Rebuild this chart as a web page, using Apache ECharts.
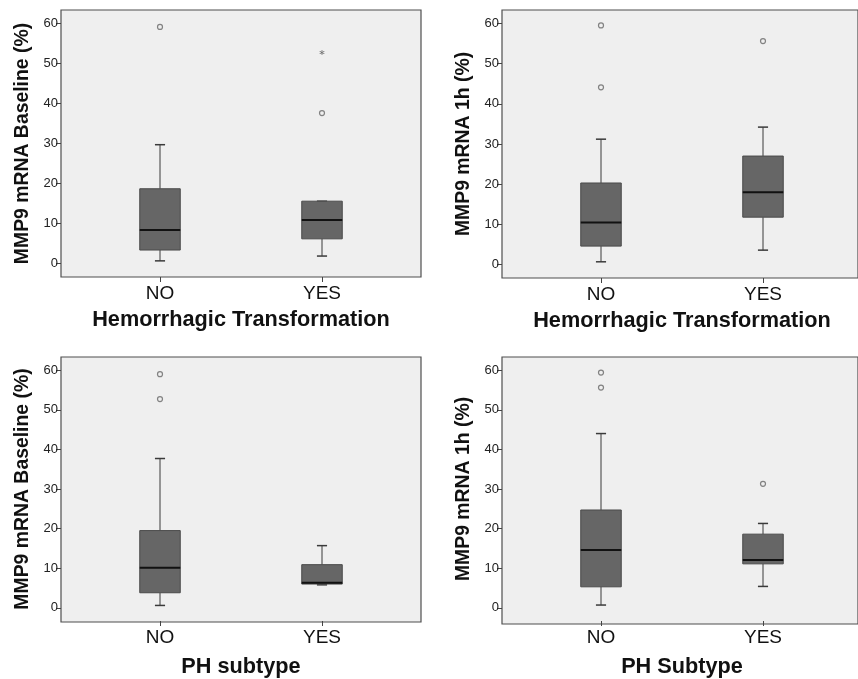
<!DOCTYPE html>
<html>
<head>
<meta charset="utf-8">
<script src="https://cdn.jsdelivr.net/npm/echarts@6/dist/echarts.min.js"></script>
<style>
  html, body { margin: 0; padding: 0; background: #fff; }
  #chart { width: 858px; height: 679px; }
</style>
</head>
<body>
<div id="chart"></div>
<script>
// categories and ticks
var categories = ["NO", "YES"];
var yTicks = [0, 10, 20, 30, 40, 50, 60];

// each box: [low whisker, Q1, median, Q3, high whisker], one per category
var baselineHT = [[0.7, 3.4, 8.4, 18.7, 29.7], [1.9, 6.2, 10.9, 15.6, 15.6]];
var baselineHTOutliers = [[0, 59.1], [1, 37.6]];
var baselineHTExtremes = [[1, 52.7]];

var oneHourHT = [[0.7, 4.6, 10.5, 20.3, 31.2], [3.6, 11.8, 18.0, 27.0, 34.2]];
var oneHourHTOutliers = [[0, 44.1], [0, 59.5], [1, 55.6]];

var baselinePH = [[0.6, 3.8, 10.1, 19.5, 37.7], [5.8, 6.0, 6.3, 10.9, 15.7]];
var baselinePHOutliers = [[0, 52.7], [0, 59.0]];

var oneHourPH = [[0.7, 5.3, 14.6, 24.7, 44.0], [5.4, 11.1, 12.1, 18.6, 21.3]];
var oneHourPHOutliers = [[0, 55.6], [0, 59.4], [1, 31.3]];

var FONT = "Liberation Sans, Arial, sans-serif";
// asterisk marker for extreme values
var STAR = "path://M-0.6,-5L0.6,-5L0.6,5L-0.6,5Z M4.03,3.02L4.63,1.98L-4.03,-3.02L-4.63,-1.98Z M-4.03,3.02L-4.63,1.98L4.03,-3.02L4.63,-1.98Z";

var panels = [
  { left: 61, top: 10, width: 360, height: 267, yName: "MMP9 mRNA Baseline (%)", xName: "Hemorrhagic Transformation",
    boxes: baselineHT, outliers: baselineHTOutliers, extremes: baselineHTExtremes, nameGap: 32 },
  { left: 502, top: 10, width: 362, height: 268, yName: "MMP9 mRNA 1h (%)", xName: "Hemorrhagic Transformation",
    boxes: oneHourHT, outliers: oneHourHTOutliers, extremes: [], nameGap: 32 },
  { left: 61, top: 357, width: 360, height: 265, yName: "MMP9 mRNA Baseline (%)", xName: "PH subtype",
    boxes: baselinePH, outliers: baselinePHOutliers, extremes: [], nameGap: 35 },
  { left: 502, top: 357, width: 362, height: 267, yName: "MMP9 mRNA 1h (%)", xName: "PH Subtype",
    boxes: oneHourPH, outliers: oneHourPHOutliers, extremes: [], nameGap: 35 }
];

function renderBox(params, api) {
  var x = api.value(0);
  var low = api.coord([x, api.value(1)]);
  var q1 = api.coord([x, api.value(2)]);
  var med = api.coord([x, api.value(3)]);
  var q3 = api.coord([x, api.value(4)]);
  var high = api.coord([x, api.value(5)]);
  var bw = api.size([1, 0])[0] * 0.25;
  var cap = bw * 0.25;
  var cx = med[0];
  var lineStyle = { stroke: "#3a3a3a", lineWidth: 1 };
  return {
    type: "group",
    children: [
      { type: "line", shape: { x1: cx, y1: high[1], x2: cx, y2: q3[1] }, style: lineStyle },
      { type: "line", shape: { x1: cx, y1: low[1], x2: cx, y2: q1[1] }, style: lineStyle },
      { type: "line", shape: { x1: cx - cap / 2, y1: high[1], x2: cx + cap / 2, y2: high[1] }, style: { stroke: "#3a3a3a", lineWidth: 1.5 } },
      { type: "line", shape: { x1: cx - cap / 2, y1: low[1], x2: cx + cap / 2, y2: low[1] }, style: { stroke: "#3a3a3a", lineWidth: 1.5 } },
      { type: "rect", shape: { x: cx - bw / 2, y: q3[1], width: bw, height: q1[1] - q3[1] },
        style: { fill: "#666666", stroke: "#4a4a4a", lineWidth: 1 } },
      { type: "line", shape: { x1: cx - bw / 2, y1: med[1], x2: cx + bw / 2, y2: med[1] }, style: { stroke: "#111", lineWidth: 2 } }
    ]
  };
}

var grid = [], xAxis = [], yAxis = [], series = [];
panels.forEach(function (p, i) {
  var frame = 2 * i, inner = 2 * i + 1;
  // frame with grey background
  grid.push({ left: p.left, top: p.top, width: p.width, height: p.height, show: true,
    backgroundColor: "#efefef", borderColor: "#4f4f4f", borderWidth: 1.2 });
  // data area, narrower so categories sit where they do in the picture
  grid.push({ left: p.left + 18, top: p.top, width: 324, height: p.height });

  xAxis.push({ gridIndex: frame, type: "value", show: false });
  yAxis.push({ gridIndex: frame, type: "value", show: false });

  xAxis.push({
    gridIndex: inner, type: "category", data: categories, position: "bottom",
    axisLine: { show: false, onZero: false },
    axisTick: { show: true, alignWithLabel: true, length: 5, lineStyle: { color: "#444" } },
    axisLabel: { color: "#111", fontSize: 19, fontFamily: FONT, margin: 7 },
    splitLine: { show: false },
    name: p.xName, nameLocation: "middle", nameGap: p.nameGap,
    nameTextStyle: { color: "#111", fontSize: 21.7, fontWeight: "bold", fontFamily: FONT }
  });
  yAxis.push({
    gridIndex: inner, type: "value", min: -3.33, max: 63.33, offset: 18,
    axisLine: { show: false },
    axisTick: { show: true, length: 5, customValues: yTicks, lineStyle: { color: "#444" } },
    axisLabel: { color: "#222", fontSize: 13, fontFamily: FONT, margin: 3, customValues: yTicks },
    splitLine: { show: false },
    name: p.yName, nameLocation: "middle", nameGap: 29,
    nameTextStyle: { color: "#111", fontSize: 19.4, fontWeight: "bold", fontFamily: FONT }
  });

  series.push({
    type: "custom", xAxisIndex: inner, yAxisIndex: inner,
    renderItem: renderBox,
    encode: { x: 0, y: [1, 2, 3, 4, 5] },
    data: p.boxes.map(function (b, k) { return [k].concat(b); })
  });
  series.push({
    type: "scatter", xAxisIndex: inner, yAxisIndex: inner, symbol: "circle", symbolSize: 5,
    itemStyle: { color: "#efefef", borderColor: "#666", borderWidth: 1.2 },
    data: p.outliers
  });
  if (p.extremes.length) {
    series.push({
      type: "scatter", xAxisIndex: inner, yAxisIndex: inner, symbol: STAR, symbolSize: 5,
      itemStyle: { color: "#333" },
      data: p.extremes
    });
  }
});

var myChart = echarts.init(document.getElementById("chart"));
myChart.setOption({
  animation: false,
  backgroundColor: "#fff",
  grid: grid,
  xAxis: xAxis,
  yAxis: yAxis,
  series: series
});
</script>
</body>
</html>
